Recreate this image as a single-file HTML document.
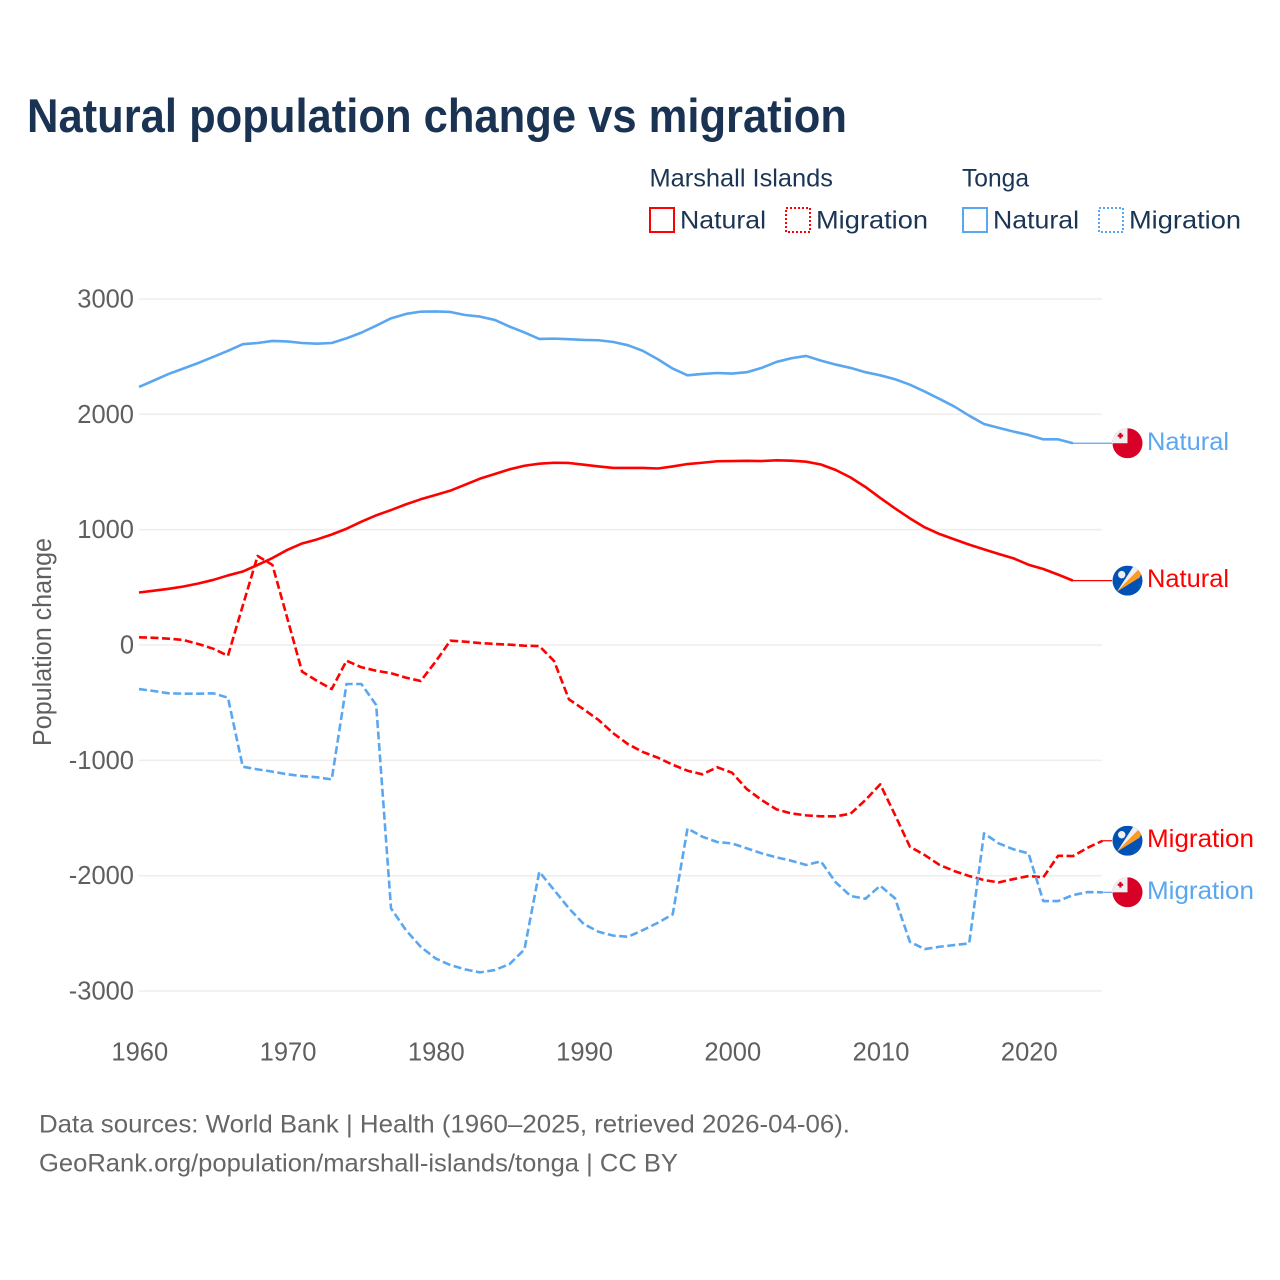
<!DOCTYPE html>
<html lang="en">
<head>
<meta charset="utf-8">
<title>Natural population change vs migration</title>
<style>
  html, body { margin: 0; padding: 0; background: #fff; }
  svg { display: block; font-family: "Liberation Sans", sans-serif; }
  .t { fill: #5f5f5f; font-size: 25.5px; }
  .lg { fill: #1b3554; font-size: 25px; }
  .ft { fill: #666; font-size: 25px; }
</style>
</head>
<body>
<svg id="chart" xmlns="http://www.w3.org/2000/svg" width="1280" height="1280" viewBox="0 0 1280 1280">
  <defs>
    <clipPath id="flag-clip"><circle cx="0" cy="0" r="15"></circle></clipPath>
  </defs>
  <rect x="0" y="0" width="1280" height="1280" fill="#ffffff"></rect>
  <text x="27" y="132" font-size="47" font-weight="700" fill="#1a3353" textLength="820" lengthAdjust="spacingAndGlyphs">Natural population change vs migration</text>

  <g>
    <text class="lg" x="649.5" y="186.5" textLength="183.5" lengthAdjust="spacingAndGlyphs">Marshall Islands</text>
    <text class="lg" x="962" y="186.5" textLength="67" lengthAdjust="spacingAndGlyphs">Tonga</text>
    <rect x="650" y="208" width="24" height="24" fill="none" stroke="#ff0000" stroke-width="2"></rect>
    <text class="lg" x="680" y="228.5" textLength="86" lengthAdjust="spacingAndGlyphs">Natural</text>
    <rect x="786" y="208" width="24" height="24" fill="none" stroke="#ff0000" stroke-width="2" stroke-dasharray="2 2"></rect>
    <text class="lg" x="816" y="228.5" textLength="112" lengthAdjust="spacingAndGlyphs">Migration</text>
    <rect x="963" y="208" width="24" height="24" fill="none" stroke="#5ba7ef" stroke-width="2"></rect>
    <text class="lg" x="993" y="228.5" textLength="86" lengthAdjust="spacingAndGlyphs">Natural</text>
    <rect x="1099" y="208" width="24" height="24" fill="none" stroke="#5ba7ef" stroke-width="2" stroke-dasharray="2 2"></rect>
    <text class="lg" x="1129" y="228.5" textLength="112" lengthAdjust="spacingAndGlyphs">Migration</text>
  </g>

  <g id="grid"></g>
  <g id="yticks"></g>
  <g id="xticks"></g>
  <text class="t" transform="translate(51,746) rotate(-90)" x="0" y="0" textLength="208" lengthAdjust="spacingAndGlyphs" font-size="25">Population change</text>
  <g id="series"></g>
  <g id="ends"></g>

  <text class="ft" x="39" y="1132.5" textLength="811" lengthAdjust="spacingAndGlyphs">Data sources: World Bank | Health (1960–2025, retrieved 2026-04-06).</text>
  <text class="ft" x="39" y="1171.5" textLength="639" lengthAdjust="spacingAndGlyphs">GeoRank.org/population/marshall-islands/tonga | CC BY</text>
</svg>
<script>
const yTickValues = [3000, 2000, 1000, 0, -1000, -2000, -3000];
const xTickYears = [1960, 1970, 1980, 1990, 2000, 2010, 2020];
const startYear = 1960;

const tongaNatural = [2237,2293,2350,2397,2445,2497,2550,2608,2618,2636,2632,2618,2612,2618,2659,2708,2768,2832,2870,2890,2892,2887,2861,2847,2818,2760,2710,2653,2656,2651,2645,2642,2627,2598,2549,2477,2396,2338,2350,2358,2353,2365,2402,2454,2486,2506,2465,2431,2402,2365,2338,2304,2257,2197,2133,2067,1988,1916,1882,1850,1821,1783,1783,1749];
const marshallNatural = [455,471,487,507,533,564,603,637,694,754,824,880,915,958,1008,1069,1124,1170,1219,1263,1300,1338,1390,1442,1482,1523,1554,1572,1580,1578,1563,1548,1535,1535,1535,1530,1548,1569,1580,1593,1595,1597,1595,1601,1598,1589,1565,1517,1452,1370,1275,1184,1098,1020,962,916,870,829,789,751,696,659,610,558];
const marshallMigration = [67,62,55,43,9,-32,-93,341,772,694,234,-231,-310,-382,-136,-193,-223,-245,-283,-312,-145,37,29,17,9,3,-6,-9,-139,-471,-558,-650,-766,-861,-928,-977,-1038,-1090,-1121,-1060,-1107,-1249,-1344,-1425,-1460,-1477,-1485,-1485,-1463,-1344,-1208,-1474,-1749,-1821,-1907,-1960,-2003,-2038,-2058,-2029,-2003,-2014,-1827,-1830,-1757,-1697];
const tongaMigration = [-382,-399,-419,-422,-422,-419,-457,-1055,-1078,-1098,-1121,-1136,-1147,-1165,-338,-338,-520,-2283,-2471,-2616,-2717,-2775,-2812,-2838,-2818,-2766,-2639,-1966,-2124,-2283,-2419,-2486,-2520,-2529,-2471,-2408,-2335,-1590,-1662,-1708,-1720,-1763,-1806,-1841,-1870,-1907,-1876,-2058,-2176,-2200,-2087,-2197,-2573,-2636,-2616,-2601,-2587,-1633,-1720,-1772,-1806,-2220,-2220,-2168,-2142,-2144];

const NS = 'http://www.w3.org/2000/svg';
const RED = '#ff0000';
const BLUE = '#5ba7ef';
function xScale(year) { return 139 + (year - 1960) * 14.825; }
function yScale(value) { return 645 - value * 0.11535; }
function make(tag, attrs, parent) {
  const el = document.createElementNS(NS, tag);
  for (const k in attrs) el.setAttribute(k, attrs[k]);
  parent.appendChild(el);
  return el;
}

const grid = document.getElementById('grid');
const yt = document.getElementById('yticks');
yTickValues.forEach(function (v) {
  const line = make('line', { x1: 139, x2: 1102, y1: yScale(v), y2: yScale(v), stroke: '#eeeeee', 'stroke-width': 1.5 }, grid);
  
  
  const label = make('text', { x: 134, y: yScale(v) + 8.5, 'text-anchor': 'end', class: 't' }, yt);
  
  
  label.textContent = String(v);
});

const xt = document.getElementById('xticks');
xTickYears.forEach(function (yr) {
  const label = make('text', { x: xScale(yr) + 0.8, y: 1060.5, 'text-anchor': 'middle', class: 't' }, xt);
  
  
  label.textContent = String(yr);
});

function drawSeries(values, color, dashed) {
  const d = values.map(function (v, i) {
    return (i ? 'L' : 'M') + xScale(startYear + i).toFixed(2) + ' ' + yScale(v).toFixed(2);
  }).join(' ');
  const path = make('path', {
    d: d, fill: 'none', stroke: color, 'stroke-width': 2.6, 'stroke-linejoin': 'round',
    'stroke-dasharray': dashed ? '8 3.5' : 'none'
  }, document.getElementById('series'));
  
  
}
drawSeries(tongaNatural, BLUE, false);
drawSeries(marshallNatural, RED, false);
drawSeries(marshallMigration, RED, true);
drawSeries(tongaMigration, BLUE, true);

function drawFlag(kind, cy) {
  const g = make('g', { transform: 'translate(1127.5,' + cy + ')' }, document.getElementById('ends'));
  
  
  const c = make('g', { 'clip-path': 'url(#flag-clip)' }, g);
  if (kind === 'tonga') {
    make('rect', { x: -15, y: -15, width: 30, height: 30, fill: '#d80027' }, c);
    make('rect', { x: -15, y: -15, width: 15, height: 15, fill: '#f0f0f0' }, c);
    make('rect', { x: -9.8, y: -8.7, width: 5.4, height: 2.2, fill: '#d80027' }, c);
    make('rect', { x: -8.2, y: -10.4, width: 2.2, height: 5.6, fill: '#d80027' }, c);
  } else {
    make('rect', { x: -15, y: -15, width: 30, height: 30, fill: '#0052b4' }, c);
    make('polygon', { points: '-10.5,11 7,-16 11.5,-11.5', fill: '#f0f0f0' }, c);
    make('polygon', { points: '-10.5,11 11.5,-11.5 16,-11 12,-3', fill: '#ff9a26' }, c);
    make('circle', { cx: -5.8, cy: -6, r: 3.7, fill: '#f0f0f0' }, c);
  }
}

function drawEnd(values, color, text, kind, width) {
  const lastX = xScale(startYear + values.length - 1);
  const lastY = yScale(values[values.length - 1]);
  const conn = make('line', { x1: lastX, x2: 1112, y1: lastY, y2: lastY, stroke: color, 'stroke-width': 1.2 }, document.getElementById('ends'));
  
  
  drawFlag(kind, lastY);
  const label = make('text', {
    x: 1147, y: lastY + 6.5, fill: color, 'font-size': 25,
    textLength: width, lengthAdjust: 'spacingAndGlyphs'
  }, document.getElementById('ends'));
  
  
  label.textContent = text;
}
drawEnd(tongaNatural, BLUE, 'Natural', 'tonga', 82);
drawEnd(marshallNatural, RED, 'Natural', 'marshall', 82);
drawEnd(marshallMigration, RED, 'Migration', 'marshall', 107);
drawEnd(tongaMigration, BLUE, 'Migration', 'tonga', 107);
</script>
</body>
</html>
